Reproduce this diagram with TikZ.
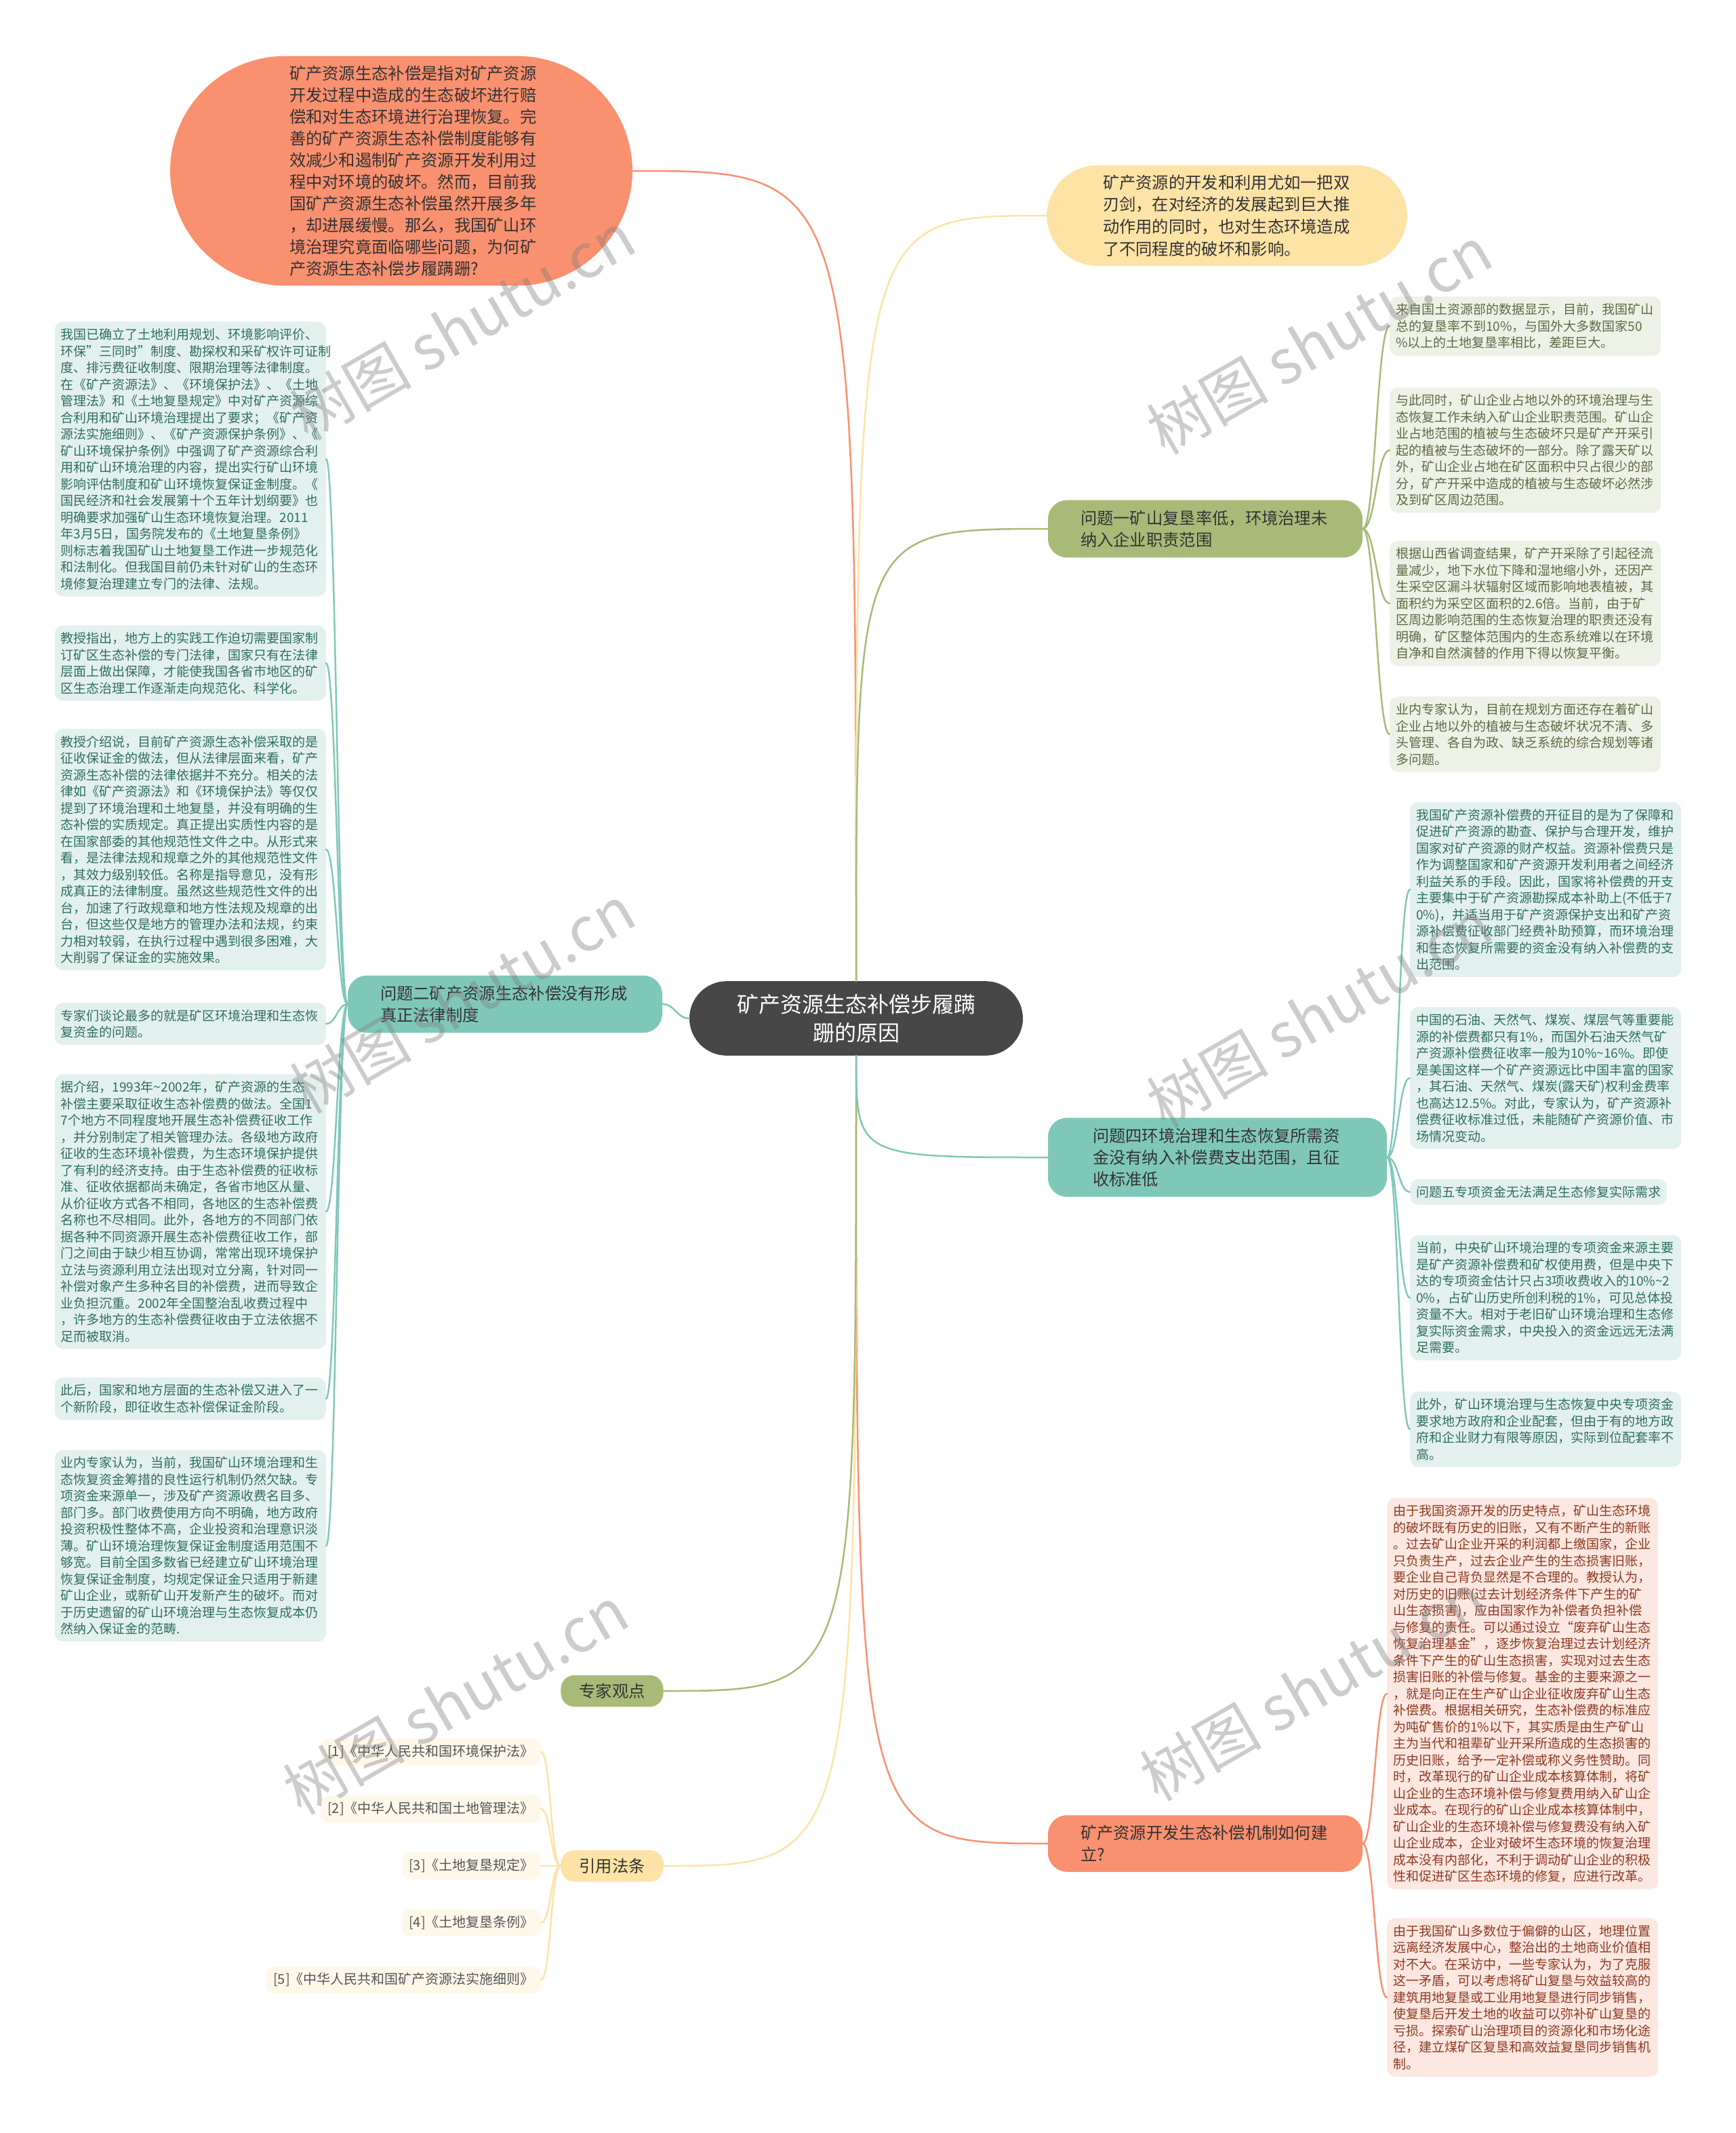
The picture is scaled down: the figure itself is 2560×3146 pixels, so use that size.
\documentclass[tikz,border=0pt]{standalone}
\usepackage{fontspec}
\setmainfont{Noto Sans CJK SC}
\usepackage{xcolor}
\usepackage{tikz}

\definecolor{corefill}{HTML}{474747}
\definecolor{coralfill}{HTML}{F9906F}
\definecolor{butterfill}{HTML}{FEE3A6}
\definecolor{mossfill}{HTML}{A8BA78}
\definecolor{tealfill}{HTML}{7FC8B9}
\definecolor{mossbox}{HTML}{EEF1E5}
\definecolor{mosstext}{HTML}{5E6A45}
\definecolor{tealbox}{HTML}{E3F1EE}
\definecolor{tealtext}{HTML}{2F6E60}
\definecolor{coralbox}{HTML}{FCE7E1}
\definecolor{coraltext}{HTML}{8C3A22}
\definecolor{butterbox}{HTML}{FEF8EA}
\definecolor{citetext}{HTML}{555555}
\definecolor{darktext}{HTML}{333333}

\begin{document}
\begin{tikzpicture}[
    x = 1pt, y = -1pt,
    core/.style = {fill=corefill, text=white, rounded corners=55pt, align=center,
        text width=354pt, inner xsep=69pt, inner ysep=19pt, font=\fontsize{32}{42}\selectfont},
    topic/.style = {rounded corners=28pt, align=left, text=darktext, text width=368pt,
        inner xsep=48pt, inner ysep=15pt, font=\fontsize{24.3}{32}\selectfont},
    tag/.style = {rounded corners=20pt, text=darktext, inner xsep=27pt, inner ysep=12pt,
        font=\fontsize{24.3}{32}\selectfont},
    leaf/.style = {rounded corners=12pt, align=left, text width=382pt,
        inner xsep=9pt, inner ysep=10pt, font=\fontsize{19}{24.5}\selectfont},
    mossleaf/.style = {leaf, fill=mossbox, text=mosstext},
    tealleaf/.style = {leaf, fill=tealbox, text=tealtext},
    coralleaf/.style = {leaf, fill=coralbox, text=coraltext},
    cite/.style = {rounded corners=12pt, fill=butterbox, text=citetext, anchor=east,
        inner xsep=10pt, inner ysep=10pt, font=\fontsize{20}{24.5}\selectfont},
    wmark/.style = {text=gray, opacity=0.4, rotate=30, font=\fontsize{90}{90}\selectfont},
    link/.style = {line width=2.5pt, line cap=round}
    ]
    \path[use as bounding box, fill=white] (0,0) rectangle (2560,3146);

    % centre and first level
    \node[core] (ctr) at (1263,1502) {矿产资源生态补偿步履蹒\\跚的原因};
    \node[topic, fill=coralfill, rounded corners=170pt, text width=330pt, inner xsep=176pt, inner ysep=14pt]
        (lead) at (592,252) {矿产资源生态补偿是指对矿产资源\\开发过程中造成的生态破坏进行赔\\偿和对生态环境进行治理恢复。完\\善的矿产资源生态补偿制度能够有\\效减少和遏制矿产资源开发利用过\\程中对环境的破坏。然而，目前我\\国矿产资源生态补偿虽然开展多年\\，却进展缓慢。那么，我国矿山环\\境治理究竟面临哪些问题，为何矿\\产资源生态补偿步履蹒跚?};
    \node[topic, fill=butterfill, rounded corners=76pt, text width=366pt, inner xsep=83pt, inner ysep=14pt,
        font=\fontsize{24.3}{32.7}\selectfont]
        (intro) at (1810,318) {矿产资源的开发和利用尤如一把双\\刃剑，在对经济的发展起到巨大推\\动作用的同时，也对生态环境造成\\了不同程度的破坏和影响。};
    \node[topic, fill=mossfill] (p1) at (1778,780) {问题一矿山复垦率低，环境治理未\\纳入企业职责范围};
    \node[topic, fill=tealfill] (p2) at (745,1481) {问题二矿产资源生态补偿没有形成\\真正法律制度};
    \node[topic, fill=tealfill, inner xsep=66pt] (p4) at (1796,1707) {问题四环境治理和生态恢复所需资\\金没有纳入补偿费支出范围，且征\\收标准低};
    \node[topic, fill=coralfill] (dev) at (1778,2719) {矿产资源开发生态补偿机制如何建\\立?};
    \node[tag, fill=mossfill] (expert) at (903,2494) {专家观点};
    \node[tag, fill=butterfill] (law) at (903,2752) {引用法条};

    % problem one
    \begin{scope}[nodes={mossleaf, anchor=west}]
        \node (r1a) at (2050,481) {来自国土资源部的数据显示，目前，我国矿山\\总的复垦率不到10\%，与国外大多数国家50\\\%以上的土地复垦率相比，差距巨大。};
        \node (r1b) at (2050,664) {与此同时，矿山企业占地以外的环境治理与生\\态恢复工作未纳入矿山企业职责范围。矿山企\\业占地范围的植被与生态破坏只是矿产开采引\\起的植被与生态破坏的一部分。除了露天矿以\\外，矿山企业占地在矿区面积中只占很少的部\\分，矿产开采中造成的植被与生态破坏必然涉\\及到矿区周边范围。};
        \node (r1c) at (2050,890) {根据山西省调查结果，矿产开采除了引起径流\\量减少，地下水位下降和湿地缩小外，还因产\\生采空区漏斗状辐射区域而影响地表植被，其\\面积约为采空区面积的2.6倍。当前，由于矿\\区周边影响范围的生态恢复治理的职责还没有\\明确，矿区整体范围内的生态系统难以在环境\\自净和自然演替的作用下得以恢复平衡。};
        \node (r1d) at (2050,1083) {业内专家认为，目前在规划方面还存在着矿山\\企业占地以外的植被与生态破坏状况不清、多\\头管理、各自为政、缺乏系统的综合规划等诸\\多问题。};
    \end{scope}

    % problem four
    \begin{scope}[nodes={tealleaf, anchor=west}]
        \node (r4a) at (2080,1312) {我国矿产资源补偿费的开征目的是为了保障和\\促进矿产资源的勘查、保护与合理开发，维护\\国家对矿产资源的财产权益。资源补偿费只是\\作为调整国家和矿产资源开发利用者之间经济\\利益关系的手段。因此，国家将补偿费的开支\\主要集中于矿产资源勘探成本补助上(不低于7\\0\%)，并适当用于矿产资源保护支出和矿产资\\源补偿费征收部门经费补助预算，而环境治理\\和生态恢复所需要的资金没有纳入补偿费的支\\出范围。};
        \node (r4b) at (2080,1590) {中国的石油、天然气、煤炭、煤层气等重要能\\源的补偿费都只有1\%，而国外石油天然气矿\\产资源补偿费征收率一般为10\%\textasciitilde16\%。即使\\是美国这样一个矿产资源远比中国丰富的国家\\，其石油、天然气、煤炭(露天矿)权利金费率\\也高达12.5\%。对此，专家认为，矿产资源补\\偿费征收标准过低，未能随矿产资源价值、市\\场情况变动。};
        \node[text width=361pt] (r4c) at (2080,1758) {问题五专项资金无法满足生态修复实际需求};
        \node (r4d) at (2080,1914) {当前，中央矿山环境治理的专项资金来源主要\\是矿产资源补偿费和矿权使用费，但是中央下\\达的专项资金估计只占3项收费收入的10\%\textasciitilde2\\0\%，占矿山历史所创利税的1\%，可见总体投\\资量不大。相对于老旧矿山环境治理和生态修\\复实际资金需求，中央投入的资金远远无法满\\足需要。};
        \node (r4e) at (2080,2108) {此外，矿山环境治理与生态恢复中央专项资金\\要求地方政府和企业配套，但由于有的地方政\\府和企业财力有限等原因，实际到位配套率不\\高。};
    \end{scope}

    % mechanism
    \begin{scope}[nodes={coralleaf, anchor=west}]
        \node (r5a) at (2046,2498) {由于我国资源开发的历史特点，矿山生态环境\\的破坏既有历史的旧账，又有不断产生的新账\\。过去矿山企业开采的利润都上缴国家，企业\\只负责生产，过去企业产生的生态损害旧账，\\要企业自己背负显然是不合理的。教授认为，\\对历史的旧账(过去计划经济条件下产生的矿\\山生态损害)，应由国家作为补偿者负担补偿\\与修复的责任。可以通过设立“废弃矿山生态\\恢复治理基金”，逐步恢复治理过去计划经济\\条件下产生的矿山生态损害，实现对过去生态\\损害旧账的补偿与修复。基金的主要来源之一\\，就是向正在生产矿山企业征收废弃矿山生态\\补偿费。根据相关研究，生态补偿费的标准应\\为吨矿售价的1\%以下，其实质是由生产矿山\\主为当代和祖辈矿业开采所造成的生态损害的\\历史旧账，给予一定补偿或称义务性赞助。同\\时，改革现行的矿山企业成本核算体制，将矿\\山企业的生态环境补偿与修复费用纳入矿山企\\业成本。在现行的矿山企业成本核算体制中，\\矿山企业的生态环境补偿与修复费没有纳入矿\\山企业成本，企业对破坏生态环境的恢复治理\\成本没有内部化，不利于调动矿山企业的积极\\性和促进矿区生态环境的修复，应进行改革。};
        \node (r5b) at (2046,2946) {由于我国矿山多数位于偏僻的山区，地理位置\\远离经济发展中心，整治出的土地商业价值相\\对不大。在采访中，一些专家认为，为了克服\\这一矛盾，可以考虑将矿山复垦与效益较高的\\建筑用地复垦或工业用地复垦进行同步销售，\\使复垦后开发土地的收益可以弥补矿山复垦的\\亏损。探索矿山治理项目的资源化和市场化途\\径，建立煤矿区复垦和高效益复垦同步销售机\\制。};
    \end{scope}

    % problem two
    \begin{scope}[nodes={tealleaf, anchor=east}]
        \node (l1) at (481,677) {我国已确立了土地利用规划、环境影响评价、\\环保"三同时"制度、勘探权和采矿权许可证制\\度、排污费征收制度、限期治理等法律制度。\\在《矿产资源法》、《环境保护法》、《土地\\管理法》和《土地复垦规定》中对矿产资源综\\合利用和矿山环境治理提出了要求；《矿产资\\源法实施细则》、《矿产资源保护条例》、《\\矿山环境保护条例》中强调了矿产资源综合利\\用和矿山环境治理的内容，提出实行矿山环境\\影响评估制度和矿山环境恢复保证金制度。《\\国民经济和社会发展第十个五年计划纲要》也\\明确要求加强矿山生态环境恢复治理。2011\\年3月5日，国务院发布的《土地复垦条例》\\则标志着我国矿山土地复垦工作进一步规范化\\和法制化。但我国目前仍未针对矿山的生态环\\境修复治理建立专门的法律、法规。};
        \node (l2) at (481,978) {教授指出，地方上的实践工作迫切需要国家制\\订矿区生态补偿的专门法律，国家只有在法律\\层面上做出保障，才能使我国各省市地区的矿\\区生态治理工作逐渐走向规范化、科学化。};
        \node (l3) at (481,1253) {教授介绍说，目前矿产资源生态补偿采取的是\\征收保证金的做法，但从法律层面来看，矿产\\资源生态补偿的法律依据并不充分。相关的法\\律如《矿产资源法》和《环境保护法》等仅仅\\提到了环境治理和土地复垦，并没有明确的生\\态补偿的实质规定。真正提出实质性内容的是\\在国家部委的其他规范性文件之中。从形式来\\看，是法律法规和规章之外的其他规范性文件\\，其效力级别较低。名称是指导意见，没有形\\成真正的法律制度。虽然这些规范性文件的出\\台，加速了行政规章和地方性法规及规章的出\\台，但这些仅是地方的管理办法和法规，约束\\力相对较弱，在执行过程中遇到很多困难，大\\大削弱了保证金的实施效果。};
        \node (l4) at (481,1510) {专家们谈论最多的就是矿区环境治理和生态恢\\复资金的问题。};
        \node (l5) at (481,1787) {据介绍，1993年\textasciitilde2002年，矿产资源的生态\\补偿主要采取征收生态补偿费的做法。全国1\\7个地方不同程度地开展生态补偿费征收工作\\，并分别制定了相关管理办法。各级地方政府\\征收的生态环境补偿费，为生态环境保护提供\\了有利的经济支持。由于生态补偿费的征收标\\准、征收依据都尚未确定，各省市地区从量、\\从价征收方式各不相同，各地区的生态补偿费\\名称也不尽相同。此外，各地方的不同部门依\\据各种不同资源开展生态补偿费征收工作，部\\门之间由于缺少相互协调，常常出现环境保护\\立法与资源利用立法出现对立分离，针对同一\\补偿对象产生多种名目的补偿费，进而导致企\\业负担沉重。2002年全国整治乱收费过程中\\，许多地方的生态补偿费征收由于立法依据不\\足而被取消。};
        \node (l6) at (481,2063) {此后，国家和地方层面的生态补偿又进入了一\\个新阶段，即征收生态补偿保证金阶段。};
        \node (l7) at (481,2280) {业内专家认为，当前，我国矿山环境治理和生\\态恢复资金筹措的良性运行机制仍然欠缺。专\\项资金来源单一，涉及矿产资源收费名目多、\\部门多。部门收费使用方向不明确，地方政府\\投资积极性整体不高，企业投资和治理意识淡\\薄。矿山环境治理恢复保证金制度适用范围不\\够宽。目前全国多数省已经建立矿山环境治理\\恢复保证金制度，均规定保证金只适用于新建\\矿山企业，或新矿山开发新产生的破坏。而对\\于历史遗留的矿山环境治理与生态恢复成本仍\\然纳入保证金的范畴.};
    \end{scope}

    % laws
    \begin{scope}[nodes=cite]
        \node (c1) at (798,2584) {[1]《中华人民共和国环境保护法》};
        \node (c2) at (798,2668) {[2]《中华人民共和国土地管理法》};
        \node (c3) at (798,2752) {[3]《土地复垦规定》};
        \node (c4) at (798,2836) {[4]《土地复垦条例》};
        \node (c5) at (798,2920) {[5]《中华人民共和国矿产资源法实施细则》};
    \end{scope}

    % connectors
    \begin{scope}[link, coralfill]
        \draw (ctr.north) .. controls (ctr.north |- lead.east) .. (lead.east);
        \draw (ctr.south) .. controls (ctr.south |- dev.west) .. (dev.west);
        \draw (dev.east) .. controls +(17,0) and +(-17,0) .. (r5a.west);
        \draw (dev.east) .. controls +(17,0) and +(-17,0) .. (r5b.west);
    \end{scope}
    \begin{scope}[link, butterfill]
        \draw (ctr.north) .. controls (ctr.north |- intro.west) .. (intro.west);
        \draw (ctr.south) .. controls (ctr.south |- law.east) .. (law.east);
        \draw (law.west) .. controls +(-15,0) and +(15,0) .. (c1.east);
        \draw (law.west) .. controls +(-15,0) and +(15,0) .. (c2.east);
        \draw (law.west) .. controls +(-15,0) and +(15,0) .. (c3.east);
        \draw (law.west) .. controls +(-15,0) and +(15,0) .. (c4.east);
        \draw (law.west) .. controls +(-15,0) and +(15,0) .. (c5.east);
    \end{scope}
    \begin{scope}[link, mossfill]
        \draw (ctr.north) .. controls (ctr.north |- p1.west) .. (p1.west);
        \draw (ctr.south) .. controls (ctr.south |- expert.east) .. (expert.east);
        \draw (p1.east) .. controls +(19,0) and +(-19,0) .. (r1a.west);
        \draw (p1.east) .. controls +(19,0) and +(-19,0) .. (r1b.west);
        \draw (p1.east) .. controls +(19,0) and +(-19,0) .. (r1c.west);
        \draw (p1.east) .. controls +(19,0) and +(-19,0) .. (r1d.west);
    \end{scope}
    \begin{scope}[link, tealfill]
        \draw (ctr.west) .. controls +(-19,0) and +(19,0) .. (p2.east);
        \draw (ctr.south) .. controls (ctr.south |- p4.west) .. (p4.west);
        \draw (p4.east) .. controls +(17,0) and +(-17,0) .. (r4a.west);
        \draw (p4.east) .. controls +(17,0) and +(-17,0) .. (r4b.west);
        \draw (p4.east) .. controls +(17,0) and +(-17,0) .. (r4c.west);
        \draw (p4.east) .. controls +(17,0) and +(-17,0) .. (r4d.west);
        \draw (p4.east) .. controls +(17,0) and +(-17,0) .. (r4e.west);
        \draw (p2.west) .. controls +(-15,0) and +(15,0) .. (l1.east);
        \draw (p2.west) .. controls +(-15,0) and +(15,0) .. (l2.east);
        \draw (p2.west) .. controls +(-15,0) and +(15,0) .. (l3.east);
        \draw (p2.west) .. controls +(-15,0) and +(15,0) .. (l4.east);
        \draw (p2.west) .. controls +(-15,0) and +(15,0) .. (l5.east);
        \draw (p2.west) .. controls +(-15,0) and +(15,0) .. (l6.east);
        \draw (p2.west) .. controls +(-15,0) and +(15,0) .. (l7.east);
    \end{scope}

    % watermarks
    \node[wmark] (wm1) at (682,481) {树图 shutu.cn};
    \node[wmark] (wm2) at (1946,502) {树图 shutu.cn};
    \node[wmark] (wm3) at (682,1474) {树图 shutu.cn};
    \node[wmark] (wm4) at (1946,1495) {树图 shutu.cn};
    \node[wmark] (wm5) at (672,2508) {树图 shutu.cn};
    \node[wmark] (wm6) at (1936,2488) {树图 shutu.cn};
\end{tikzpicture}
\end{document}
